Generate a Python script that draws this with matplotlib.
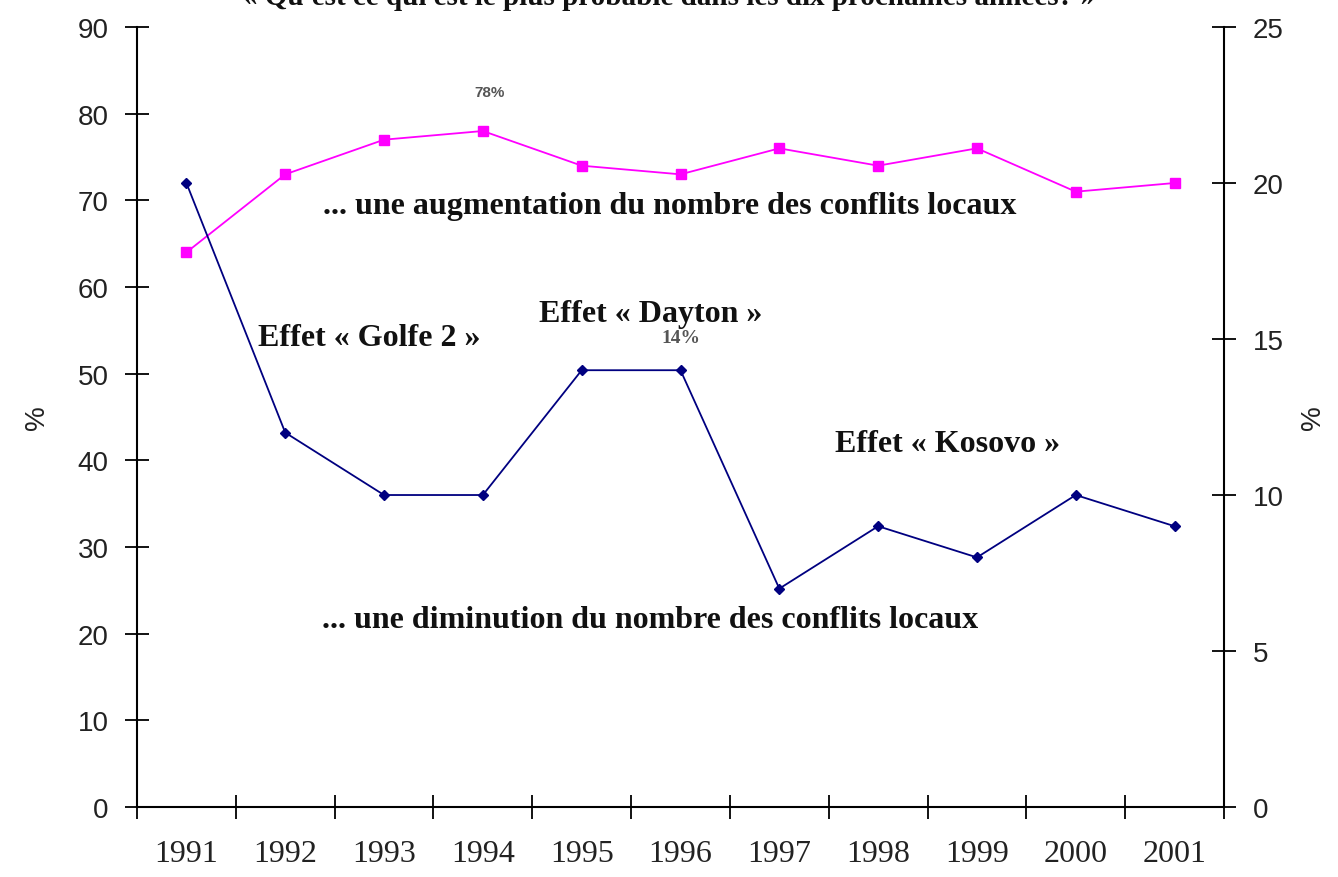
import matplotlib
matplotlib.use("Agg")
import matplotlib.pyplot as plt
import numpy as np

# données
annees = ["1991", "1992", "1993", "1994", "1995", "1996", "1997", "1998", "1999", "2000", "2001"]
augmentation = [64, 73, 77, 78, 74, 73, 76, 74, 76, 71, 72]   # axe gauche (%)
diminution = [20, 12, 10, 10, 14, 14, 7, 9, 8, 10, 9]          # axe droit (%)

titre = "« Qu'est ce qui est le plus probable dans les dix prochaines années? »"

serif = "Liberation Serif"
sans = "Liberation Sans"

fig = plt.figure(figsize=(13.38, 8.78), dpi=100)
ax = fig.add_axes([0.1024, 0.0797, 0.8124, 0.8884])
ax2 = ax.twinx()

x = np.arange(len(annees))

ax.plot(x, augmentation, color="#FF00FF", lw=1.3, marker="s", ms=6.5, zorder=3)
ax2.plot(x, diminution, color="#000080", lw=1.3, marker="D", ms=5, zorder=3)

ax.set_xlim(-0.5, len(annees) - 0.5)
ax.set_ylim(0, 90)
ax2.set_ylim(0, 25)
ax.set_yticks(np.arange(0, 91, 10))
ax2.set_yticks(np.arange(0, 26, 5))

# graduations aux limites, étiquettes au centre
ax.set_xticks(np.arange(-0.5, len(annees), 1.0))
ax.set_xticklabels([])
ax.set_xticks(x, minor=True)
ax.set_xticklabels(annees, minor=True, fontfamily=serif, fontsize=23, color="#222222")
ax.tick_params(axis="x", which="major", direction="inout", length=17, width=1.3)
ax.tick_params(axis="x", which="minor", length=0, pad=23)

for a in (ax, ax2):
    a.spines["top"].set_visible(False)
    for s in ("left", "right", "bottom"):
        a.spines[s].set_linewidth(1.5)

ax.spines["right"].set_visible(False)
ax2.spines["left"].set_visible(False)
ax2.spines["bottom"].set_visible(False)

ax.tick_params(axis="y", direction="inout", length=17, width=1.3, labelsize=20, pad=12)
ax2.tick_params(axis="y", direction="inout", length=17, width=1.3, labelsize=20, pad=12)
for lab in ax.get_yticklabels() + ax2.get_yticklabels():
    lab.set_fontfamily(sans)
    lab.set_color("#222222")

ax.set_ylabel("%", fontfamily=sans, fontsize=20, color="#222222", labelpad=20)
ax2.set_ylabel("%", fontfamily=sans, fontsize=20, color="#222222", labelpad=12)

# annotations
bold = dict(fontfamily=serif, fontweight="bold", fontsize=23, color="#111111")
ax.text(1.38, 69.4, "... une augmentation du nombre des conflits locaux", ha="left", va="center", **bold)
ax.text(0.72, 54.2, "Effet « Golfe 2 »", ha="left", va="center", **bold)
ax.text(3.57, 56.9, "Effet « Dayton »", ha="left", va="center", **bold)
ax.text(6.56, 41.9, "Effet « Kosovo »", ha="left", va="center", **bold)
ax.text(1.37, 21.6, "... une diminution du nombre des conflits locaux", ha="left", va="center", **bold)

ax.text(3.07, 82.5, "78%", ha="center", va="center", fontfamily=sans, fontsize=11,
        fontweight="bold", color="#555555")
ax2.text(5, 15.05, "14%", ha="center", va="center", fontfamily=serif, fontsize=14,
         fontweight="bold", color="#555555")

fig.text(0.5, 1.003, titre, ha="center", va="center", fontfamily=serif,
         fontweight="bold", fontsize=21, color="#111111")

fig.savefig("out.png", dpi=100, facecolor="white")
